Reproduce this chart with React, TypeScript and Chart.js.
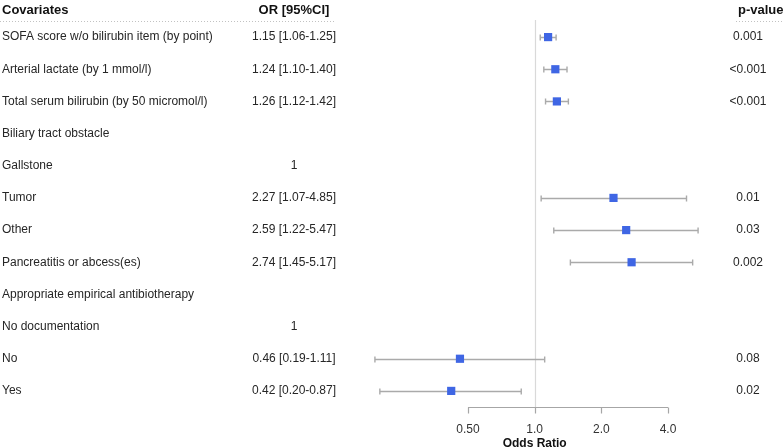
import React, { useEffect, useRef } from "react";
import { Chart, registerables } from "chart.js";

Chart.register(...registerables);

const covariates = [
  "SOFA score w/o bilirubin item (by point)",
  "Arterial lactate (by 1 mmol/l)",
  "Total serum bilirubin (by 50 micromol/l)",
  "Biliary tract obstacle",
  "Gallstone",
  "Tumor",
  "Other",
  "Pancreatitis or abcess(es)",
  "Appropriate empirical antibiotherapy",
  "No documentation",
  "No",
  "Yes",
];
const orText = [
  "1.15 [1.06-1.25]",
  "1.24 [1.10-1.40]",
  "1.26 [1.12-1.42]",
  "",
  "1",
  "2.27 [1.07-4.85]",
  "2.59 [1.22-5.47]",
  "2.74 [1.45-5.17]",
  "",
  "1",
  "0.46 [0.19-1.11]",
  "0.42 [0.20-0.87]",
];
const orValues: (number | null)[] = [1.15, 1.24, 1.26, null, null, 2.27, 2.59, 2.74, null, null, 0.46, 0.42];
const ciLow: (number | null)[] = [1.06, 1.1, 1.12, null, null, 1.07, 1.22, 1.45, null, null, 0.19, 0.2];
const ciHigh: (number | null)[] = [1.25, 1.4, 1.42, null, null, 4.85, 5.47, 5.17, null, null, 1.11, 0.87];
const pValues = ["0.001", "<0.001", "<0.001", "", "", "0.01", "0.03", "0.002", "", "", "0.08", "0.02"];
const tickValues = [0.5, 1, 2, 4];
const tickLabels = ["0.50", "1.0", "2.0", "4.0"];

const FONT = "'Liberation Sans', Arial, Helvetica, sans-serif";

const forestPlugin = {
  id: "forest",
  beforeDatasetsDraw(chart: any) {
    const { ctx, chartArea, scales } = chart;
    const x = scales.x;
    const y = scales.y;
    const axisY = chartArea.bottom;
    ctx.save();
    // reference line at 1
    ctx.strokeStyle = "#d9d9d9";
    ctx.lineWidth = 1.2;
    const x1 = Math.round(x.getPixelForValue(1)) + 0.5;
    ctx.beginPath();
    ctx.moveTo(x1, chartArea.top - 1);
    ctx.lineTo(x1, axisY);
    ctx.stroke();
    // error bars
    ctx.strokeStyle = "#aaaaaa";
    ctx.lineWidth = 1.4;
    for (let i = 0; i < covariates.length; i++) {
      const lo = ciLow[i];
      const hi = ciHigh[i];
      if (lo == null || hi == null) continue;
      const py = Math.round(y.getPixelForValue(i)) + 0.5;
      const pl = x.getPixelForValue(lo);
      const ph = x.getPixelForValue(hi);
      ctx.beginPath();
      ctx.moveTo(pl, py);
      ctx.lineTo(ph, py);
      ctx.moveTo(pl, py - 3);
      ctx.lineTo(pl, py + 3);
      ctx.moveTo(ph, py - 3);
      ctx.lineTo(ph, py + 3);
      ctx.stroke();
    }
    ctx.restore();
  },
  afterDraw(chart: any) {
    const { ctx, chartArea, scales } = chart;
    const x = scales.x;
    const y = scales.y;
    const axisY = chartArea.bottom + 0.5;
    ctx.save();
    // bottom axis
    ctx.strokeStyle = "#a6a6a6";
    ctx.lineWidth = 1.2;
    const a0 = x.getPixelForValue(tickValues[0]);
    const a1 = x.getPixelForValue(tickValues[tickValues.length - 1]);
    ctx.beginPath();
    ctx.moveTo(a0, axisY);
    ctx.lineTo(a1, axisY);
    tickValues.forEach((v) => {
      const px = Math.round(x.getPixelForValue(v)) + 0.5;
      ctx.moveTo(px, axisY);
      ctx.lineTo(px, axisY + 6);
    });
    ctx.stroke();
    ctx.fillStyle = "#333";
    ctx.font = `12px ${FONT}`;
    ctx.textAlign = "center";
    ctx.textBaseline = "middle";
    tickValues.forEach((v, i) => {
      ctx.fillText(tickLabels[i], x.getPixelForValue(v), axisY + 22);
    });
    ctx.fillStyle = "#111";
    ctx.font = `bold 12px ${FONT}`;
    ctx.fillText("Odds Ratio", x.getPixelForValue(1), axisY + 36);

    // headers
    ctx.font = `bold 13px ${FONT}`;
    ctx.textAlign = "left";
    ctx.fillText("Covariates", 2, 10);
    ctx.textAlign = "center";
    ctx.fillText("OR [95%CI]", 294, 10);
    ctx.textAlign = "left";
    ctx.fillText("p-value", 738, 10);

    // dotted separators
    ctx.strokeStyle = "#c2c2c2";
    ctx.lineWidth = 1;
    ctx.setLineDash([1, 2]);
    ctx.beginPath();
    ctx.moveTo(0, 21.5);
    ctx.lineTo(336, 21.5);
    ctx.moveTo(736, 21.5);
    ctx.lineTo(784, 21.5);
    ctx.stroke();
    ctx.setLineDash([]);

    // rows
    ctx.font = `12px ${FONT}`;
    ctx.fillStyle = "#262626";
    for (let i = 0; i < covariates.length; i++) {
      const py = y.getPixelForValue(i);
      ctx.textAlign = "left";
      ctx.fillText(covariates[i], 2, py);
      ctx.textAlign = "center";
      if (orText[i]) ctx.fillText(orText[i], 294, py);
      if (pValues[i]) ctx.fillText(pValues[i], 748, py);
    }
    ctx.restore();
  },
};

export default function App() {
  const ref = useRef<HTMLCanvasElement | null>(null);
  useEffect(() => {
    document.body.style.margin = "0";
    const canvas = ref.current;
    if (!canvas) return;
    const points = orValues
      .map((v, i) => (v == null ? null : { x: v, y: i }))
      .filter((p) => p !== null);
    const chart = new Chart(canvas, {
      type: "scatter",
      data: {
        datasets: [
          {
            data: points as any,
            pointStyle: "rect",
            pointRadius: 5.8,
            backgroundColor: "#3F66E4",
            borderColor: "#3F66E4",
            borderWidth: 0,
          },
        ],
      },
      options: {
        animation: false,
        responsive: false,
        layout: { padding: { left: 360, right: 64, top: 21, bottom: 41 } },
        plugins: { legend: { display: false }, tooltip: { enabled: false } },
        scales: {
          x: { type: "logarithmic", min: 0.1627, max: 6.87, display: false },
          y: { type: "linear", min: -0.5, max: 11.5, reverse: true, display: false },
        },
      },
      plugins: [forestPlugin],
    });
    return () => chart.destroy();
  }, []);
  return (
    <div style={{ width: 784, height: 448 }}>
      <canvas ref={ref} width={784} height={448} style={{ width: 784, height: 448 }} />
    </div>
  );
}
